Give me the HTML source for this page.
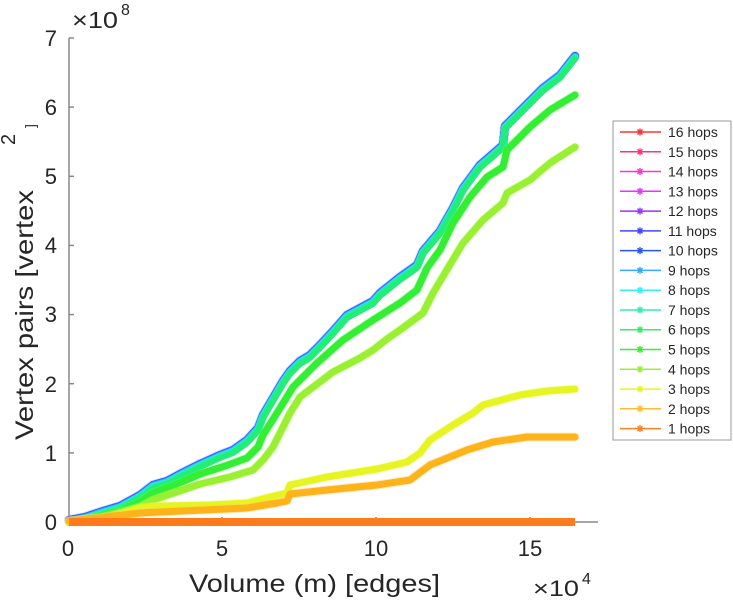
<!DOCTYPE html>
<html><head><meta charset="utf-8"><style>
html,body{margin:0;padding:0;background:#fff;}
svg{display:block;}
text{font-family:"Liberation Sans",Arial,sans-serif;fill:#262626;}
</style></head><body>
<svg width="733" height="600" viewBox="0 0 733 600" xmlns="http://www.w3.org/2000/svg">
<defs>
<polyline id="T" fill="none" stroke-linejoin="round" stroke-linecap="round" points="69,522 85,519 100,514 120,508 140,497 153,487 167,483 180,476 200,466 220,457 233,452 247,442 258,430 263,417 273,400 283,383 290,373 300,363 310,357 320,347 333,333 347,317 373,303 380,295 400,279 417,267 423,253 440,233 453,210 463,190 480,167 503,147 505,128 523,110 543,90 560,77 575,58"/>
<polyline id="G5" fill="none" stroke-linejoin="round" stroke-linecap="round" points="69,522 100,516 120,511 140,502 153,493 175,485 200,474 225,466 247,458 258,447 263,435 277,413 293,387 305,375 317,363 343,340 373,320 400,303 417,290 427,268 440,250 453,223 470,197 487,177 503,167 507,150 530,127 550,110 575,95"/>
<polyline id="G4" fill="none" stroke-linejoin="round" stroke-linecap="round" points="69,522 100,518 140,507 153,500 200,484 230,477 253,470 263,460 273,447 290,413 300,397 333,372 360,358 373,350 387,339 400,330 423,313 433,293 463,243 483,220 503,203 507,193 530,180 550,163 575,147"/>
<polyline id="Y3" fill="none" stroke-linejoin="round" stroke-linecap="round" points="69,521 110,517 140,508 160,506 210,505 247,503 270,497 287,493 290,485 327,477 377,469 407,462 420,453 430,440 453,425 473,413 483,405 520,395 547,391 575,389"/>
<polyline id="O2" fill="none" stroke-linejoin="round" stroke-linecap="round" points="69,521 140,513 160,512 247,508 277,503 287,501 290,494 327,490 377,485 410,480 430,465 467,450 493,442 527,437 575,437"/>
<g id="star" stroke-width="1.4"><line x1="-3.5" y1="0" x2="3.5" y2="0"/><line x1="0" y1="-3.5" x2="0" y2="3.5"/><line x1="-2.5" y1="-2.5" x2="2.5" y2="2.5"/><line x1="-2.5" y1="2.5" x2="2.5" y2="-2.5"/></g>
</defs>

<!-- axes -->
<g stroke="#888" stroke-width="1.5" fill="none">
<line x1="69" y1="38" x2="69" y2="522"/>
<line x1="68" y1="522" x2="598" y2="522"/>
<line x1="69" y1="38" x2="74" y2="38"/>
<line x1="69" y1="107.1" x2="74" y2="107.1"/>
<line x1="69" y1="176.3" x2="74" y2="176.3"/>
<line x1="69" y1="245.4" x2="74" y2="245.4"/>
<line x1="69" y1="314.6" x2="74" y2="314.6"/>
<line x1="69" y1="383.7" x2="74" y2="383.7"/>
<line x1="69" y1="452.9" x2="74" y2="452.9"/>
<line x1="222" y1="522" x2="222" y2="517"/>
<line x1="376" y1="522" x2="376" y2="517"/>
<line x1="530" y1="522" x2="530" y2="517"/>
</g>

<!-- series: 16..6 bunch -->
<use href="#T" stroke="#9999ff" stroke-width="10" opacity="0.35" transform="translate(0,-2)"/>
<use href="#T" stroke="#ff3333" stroke-width="8" transform="translate(0,-1.5)"/>
<use href="#T" stroke="#ff3377" stroke-width="8" transform="translate(0,-1.5)"/>
<use href="#T" stroke="#ff33cc" stroke-width="8" transform="translate(0,-1.5)"/>
<use href="#T" stroke="#e633ff" stroke-width="8" transform="translate(0,-1.5)"/>
<use href="#T" stroke="#9933ff" stroke-width="8" transform="translate(0,-1.8)"/>
<use href="#T" stroke="#4444ff" stroke-width="8" transform="translate(0,-2)"/>
<use href="#T" stroke="#2266ff" stroke-width="8" transform="translate(0,-2)"/>
<use href="#T" stroke="#33aaff" stroke-width="8" transform="translate(0,-1)"/>
<use href="#T" stroke="#33eeff" stroke-width="7" transform="translate(0,-0.5)"/>
<use href="#T" stroke="#22f0aa" stroke-width="7" transform="translate(0,0)"/>
<use href="#T" stroke="#22ee77" stroke-width="6" transform="translate(0,1)"/>
<use href="#G5" stroke="#66ff66" stroke-width="9" opacity="0.35"/>
<use href="#G5" stroke="#33ee33" stroke-width="7"/>
<use href="#G4" stroke="#bbff66" stroke-width="9" opacity="0.35"/>
<use href="#G4" stroke="#99f033" stroke-width="7"/>
<use href="#Y3" stroke="#f0ff66" stroke-width="9" opacity="0.35"/>
<use href="#Y3" stroke="#e6f522" stroke-width="7"/>
<use href="#O2" stroke="#ffcc66" stroke-width="9" opacity="0.35"/>
<use href="#O2" stroke="#ffb31a" stroke-width="7"/>
<line x1="69" y1="522" x2="575" y2="522" stroke="#ff7a1a" stroke-width="8"/>

<!-- tick labels -->
<g font-size="22" text-anchor="end">
<text x="57" y="46">7</text>
<text x="57" y="115">6</text>
<text x="57" y="184">5</text>
<text x="57" y="253">4</text>
<text x="57" y="322">3</text>
<text x="57" y="392">2</text>
<text x="57" y="461">1</text>
<text x="57" y="530">0</text>
</g>
<g font-size="22" text-anchor="middle">
<text x="68" y="556">0</text>
<text x="222" y="556">5</text>
<text x="376" y="556">10</text>
<text x="530" y="556">15</text>
</g>
<text x="72" y="28" font-size="23" textLength="46" lengthAdjust="spacingAndGlyphs">×10</text>
<text x="121" y="15" font-size="16">8</text>
<text x="533" y="596" font-size="22" textLength="46" lengthAdjust="spacingAndGlyphs">×10</text>
<text x="582" y="584" font-size="16">4</text>

<!-- axis labels -->
<text x="189" y="592" font-size="25" textLength="251" lengthAdjust="spacingAndGlyphs">Volume (m) [edges]</text>
<text transform="translate(33,440) rotate(-90)" font-size="25" textLength="250" lengthAdjust="spacingAndGlyphs">Vertex pairs [vertex</text>
<text transform="translate(15,145) rotate(-90)" font-size="20">2</text>
<text transform="translate(35,128) rotate(-90)" font-size="14">]</text>

<!-- legend -->
<rect x="613" y="121" width="118" height="319" fill="#fff" stroke="#999" stroke-width="1"/>
<g font-size="14">
<g transform="translate(0,132)"><line x1="620" y1="0" x2="661" y2="0" stroke="#ff3333" stroke-width="1.5"/><use href="#star" x="640" stroke="#ff3333"/><text x="668" y="5">16 hops</text></g>
<g transform="translate(0,151.8)"><line x1="620" y1="0" x2="661" y2="0" stroke="#ff3377" stroke-width="1.5"/><use href="#star" x="640" stroke="#ff3377"/><text x="668" y="5">15 hops</text></g>
<g transform="translate(0,171.5)"><line x1="620" y1="0" x2="661" y2="0" stroke="#ff33cc" stroke-width="1.5"/><use href="#star" x="640" stroke="#ff33cc"/><text x="668" y="5">14 hops</text></g>
<g transform="translate(0,191.3)"><line x1="620" y1="0" x2="661" y2="0" stroke="#e633ff" stroke-width="1.5"/><use href="#star" x="640" stroke="#e633ff"/><text x="668" y="5">13 hops</text></g>
<g transform="translate(0,211.1)"><line x1="620" y1="0" x2="661" y2="0" stroke="#9933ff" stroke-width="1.5"/><use href="#star" x="640" stroke="#9933ff"/><text x="668" y="5">12 hops</text></g>
<g transform="translate(0,230.9)"><line x1="620" y1="0" x2="661" y2="0" stroke="#4444ff" stroke-width="1.5"/><use href="#star" x="640" stroke="#4444ff"/><text x="668" y="5">11 hops</text></g>
<g transform="translate(0,250.6)"><line x1="620" y1="0" x2="661" y2="0" stroke="#2255ff" stroke-width="1.5"/><use href="#star" x="640" stroke="#2255ff"/><text x="668" y="5">10 hops</text></g>
<g transform="translate(0,270.4)"><line x1="620" y1="0" x2="661" y2="0" stroke="#33aaff" stroke-width="1.5"/><use href="#star" x="640" stroke="#33aaff"/><text x="668" y="5">9 hops</text></g>
<g transform="translate(0,290.2)"><line x1="620" y1="0" x2="661" y2="0" stroke="#33eeff" stroke-width="1.5"/><use href="#star" x="640" stroke="#33eeff"/><text x="668" y="5">8 hops</text></g>
<g transform="translate(0,310)"><line x1="620" y1="0" x2="661" y2="0" stroke="#33eeaa" stroke-width="1.5"/><use href="#star" x="640" stroke="#33eeaa"/><text x="668" y="5">7 hops</text></g>
<g transform="translate(0,329.7)"><line x1="620" y1="0" x2="661" y2="0" stroke="#33ee66" stroke-width="1.5"/><use href="#star" x="640" stroke="#33ee66"/><text x="668" y="5">6 hops</text></g>
<g transform="translate(0,349.5)"><line x1="620" y1="0" x2="661" y2="0" stroke="#33ee33" stroke-width="1.5"/><use href="#star" x="640" stroke="#33ee33"/><text x="668" y="5">5 hops</text></g>
<g transform="translate(0,369.3)"><line x1="620" y1="0" x2="661" y2="0" stroke="#99f033" stroke-width="1.5"/><use href="#star" x="640" stroke="#99f033"/><text x="668" y="5">4 hops</text></g>
<g transform="translate(0,389.1)"><line x1="620" y1="0" x2="661" y2="0" stroke="#e6f522" stroke-width="1.5"/><use href="#star" x="640" stroke="#e6f522"/><text x="668" y="5">3 hops</text></g>
<g transform="translate(0,408.8)"><line x1="620" y1="0" x2="661" y2="0" stroke="#ffbb33" stroke-width="1.5"/><use href="#star" x="640" stroke="#ffbb33"/><text x="668" y="5">2 hops</text></g>
<g transform="translate(0,428.6)"><line x1="620" y1="0" x2="661" y2="0" stroke="#ff7f2a" stroke-width="1.5"/><use href="#star" x="640" stroke="#ff7f2a"/><text x="668" y="5">1 hops</text></g>
</g>
</svg>
</body></html>
